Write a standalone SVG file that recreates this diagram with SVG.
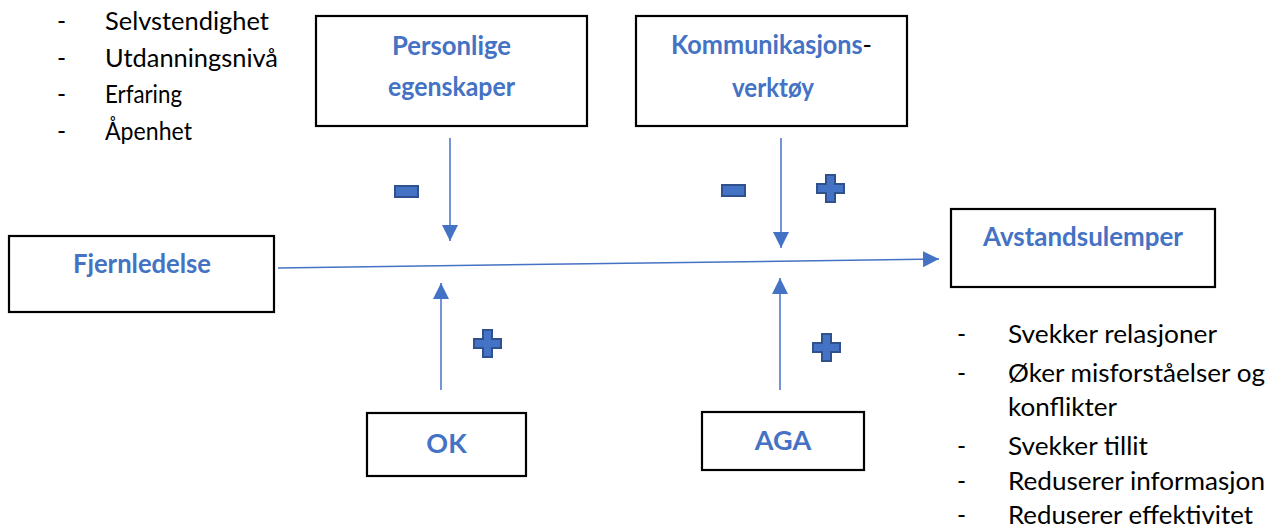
<svg xmlns="http://www.w3.org/2000/svg" width="1280" height="528" viewBox="0 0 1280 528">
<style>
.box{fill:#fff;stroke:#000;stroke-width:2.2}
.lbl{font-family:Lato,"Open Sans","Liberation Sans",sans-serif;font-weight:700;font-size:27px;fill:#4472C4;text-anchor:middle}
.li{font-family:Lato,"Open Sans","Liberation Sans",sans-serif;font-size:24.5px;fill:#000}
.con{stroke:#4472C4;stroke-width:1.5;fill:none}
.sign{fill:#4472C4;stroke:#2F528F;stroke-width:2}
</style>
<defs>
<marker id="ah" viewBox="0 0 16 16" refX="16" refY="8" markerWidth="16" markerHeight="16" markerUnits="userSpaceOnUse" orient="auto">
<path d="M0,0 L16,8 L0,16 z" fill="#4472C4"/>
</marker>
</defs>
<rect width="1280" height="528" fill="#fff"/>

<g id="list-left">
<text class="li" x="57" y="30">-</text>
<text class="li" x="105" y="30" textLength="164" lengthAdjust="spacingAndGlyphs">Selvstendighet</text>
<text class="li" x="57" y="67">-</text>
<text class="li" x="105" y="67" textLength="173" lengthAdjust="spacingAndGlyphs">Utdanningsnivå</text>
<text class="li" x="57" y="103">-</text>
<text class="li" x="105" y="103" textLength="77" lengthAdjust="spacingAndGlyphs">Erfaring</text>
<text class="li" x="57" y="140">-</text>
<text class="li" x="105" y="140" textLength="87" lengthAdjust="spacingAndGlyphs">Åpenhet</text>
</g>

<g id="node-personlige">
<rect class="box" x="316" y="16" width="271" height="110"/>
<text class="lbl" x="451.5" y="55" textLength="119" lengthAdjust="spacingAndGlyphs">Personlige</text>
<text class="lbl" x="451.5" y="96" textLength="127" lengthAdjust="spacingAndGlyphs">egenskaper</text>
</g>

<g id="node-kommunikasjon">
<rect class="box" x="636" y="16" width="271" height="110"/>
<text class="lbl" x="771.5" y="54" textLength="201" lengthAdjust="spacingAndGlyphs">Kommunikasjons<tspan style="fill:#000;font-weight:400">-</tspan></text>
<text class="lbl" x="773" y="97" textLength="82" lengthAdjust="spacingAndGlyphs">verktøy</text>
</g>

<g id="node-fjernledelse">
<rect class="box" x="9" y="236" width="265" height="76"/>
<text class="lbl" x="142" y="273" textLength="138" lengthAdjust="spacingAndGlyphs">Fjernledelse</text>
</g>

<g id="node-avstandsulemper">
<rect class="box" x="951" y="209" width="264" height="78"/>
<text class="lbl" x="1083" y="246" textLength="200" lengthAdjust="spacingAndGlyphs">Avstandsulemper</text>
</g>

<g id="node-ok">
<rect class="box" x="367" y="413" width="159" height="63"/>
<text class="lbl" x="446.5" y="453">OK</text>
</g>

<g id="node-aga">
<rect class="box" x="702" y="412" width="162" height="58"/>
<text class="lbl" x="783" y="450">AGA</text>
</g>

<g id="list-right">
<text class="li" x="957" y="343">-</text>
<text class="li" x="1008" y="343" textLength="209" lengthAdjust="spacingAndGlyphs">Svekker relasjoner</text>
<text class="li" x="957" y="382">-</text>
<text class="li" x="1008" y="382" textLength="257" lengthAdjust="spacingAndGlyphs">Øker misforståelser og</text>
<text class="li" x="1008" y="416" textLength="109" lengthAdjust="spacingAndGlyphs">konflikter</text>
<text class="li" x="957" y="455">-</text>
<text class="li" x="1008" y="455" textLength="140" lengthAdjust="spacingAndGlyphs">Svekker tillit</text>
<text class="li" x="957" y="490">-</text>
<text class="li" x="1008" y="490" textLength="257" lengthAdjust="spacingAndGlyphs">Reduserer informasjon</text>
<text class="li" x="957" y="524">-</text>
<text class="li" x="1008" y="524" textLength="245" lengthAdjust="spacingAndGlyphs">Reduserer effektivitet</text>
</g>

<g id="connectors">
<line class="con" x1="278" y1="268" x2="939" y2="259" marker-end="url(#ah)"/>
<line class="con" x1="450" y1="138" x2="450" y2="241" marker-end="url(#ah)"/>
<line class="con" x1="781" y1="138" x2="781" y2="248" marker-end="url(#ah)"/>
<line class="con" x1="441" y1="390" x2="441" y2="283" marker-end="url(#ah)"/>
<line class="con" x1="780" y1="390" x2="780" y2="278" marker-end="url(#ah)"/>
</g>

<g id="signs">
<rect class="sign" x="395" y="186" width="23" height="11"/>
<rect class="sign" x="722" y="185" width="23" height="11"/>
<path class="sign" d="M826,175 h9 v9 h9 v9 h-9 v9 h-9 v-9 h-9 v-9 h9 z"/>
<path class="sign" d="M483,330 h9 v9 h9 v9 h-9 v9 h-9 v-9 h-9 v-9 h9 z"/>
<path class="sign" d="M822,334 h9 v9 h9 v9 h-9 v9 h-9 v-9 h-9 v-9 h9 z"/>
</g>
</svg>
